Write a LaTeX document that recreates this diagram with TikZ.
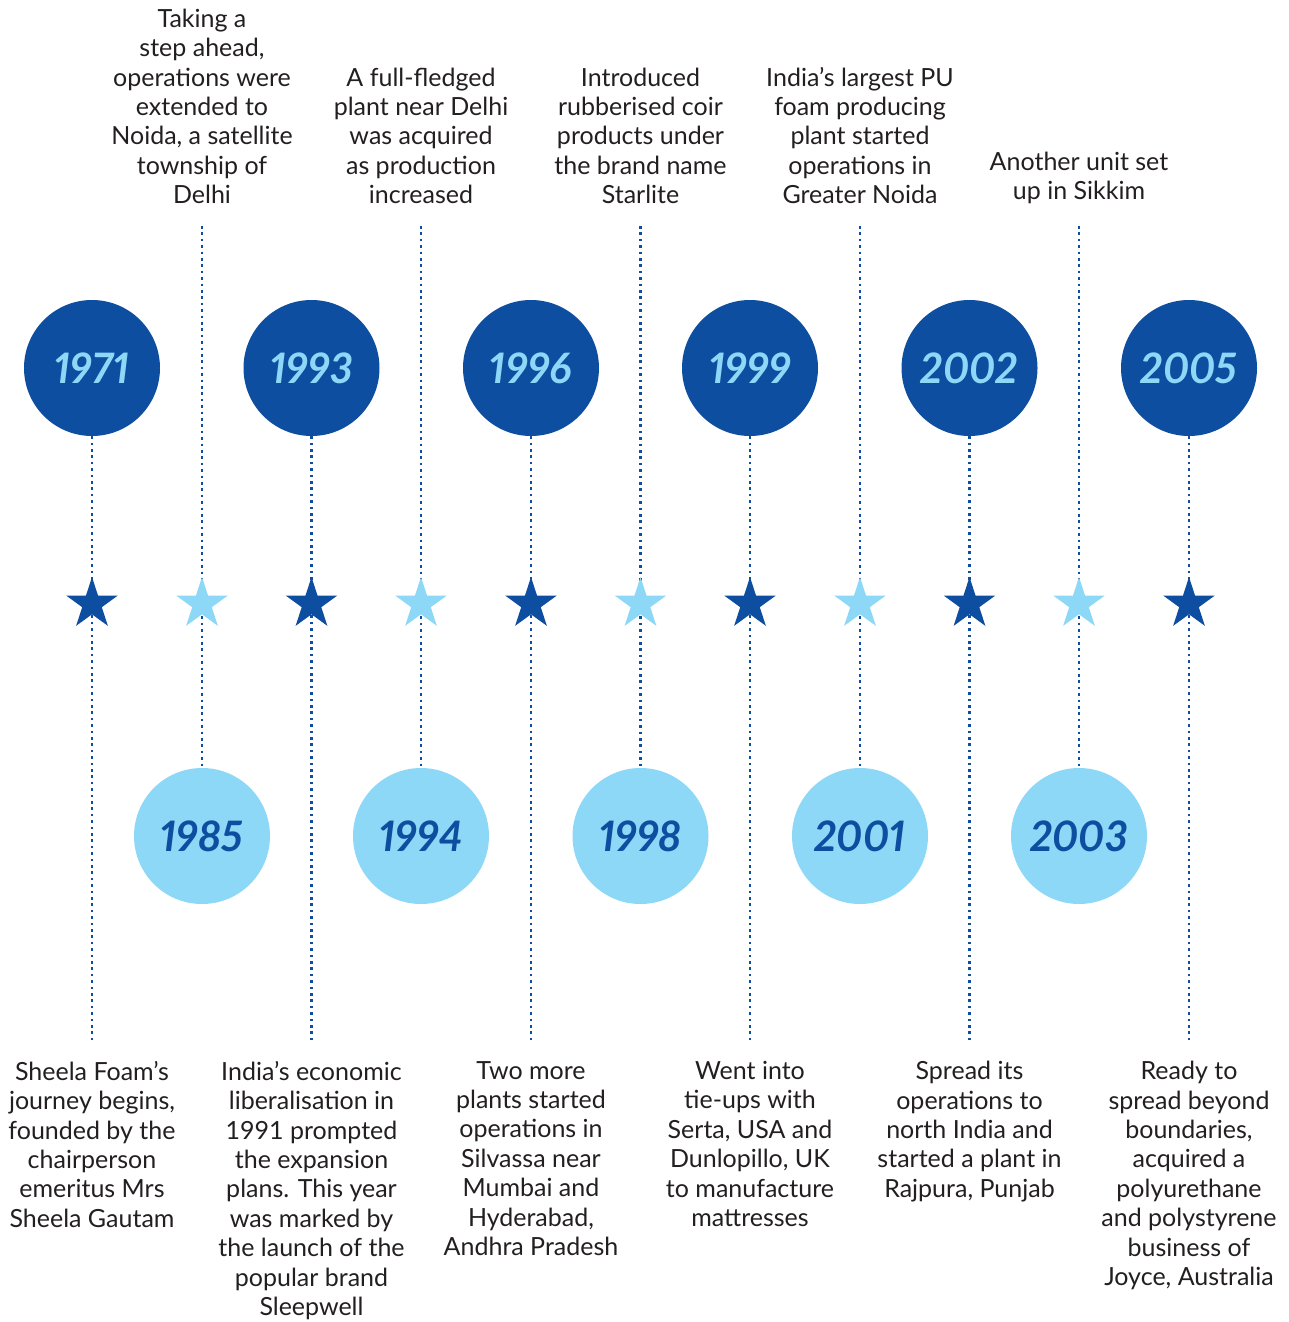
\documentclass[tikz,border=0pt]{standalone}
\usepackage{fontspec}
\setmainfont{Lato}
\usetikzlibrary{shapes.geometric,backgrounds}
\definecolor{dblue}{HTML}{0E4EA1}
\definecolor{lblue}{HTML}{8ED8F7}
\definecolor{txt}{HTML}{231F20}
\begin{document}
\begin{tikzpicture}[x=1pt,y=-1pt,
  yearfont/.style={font=\fontsize{42}{44}\selectfont\bfseries\itshape\addfontfeatures{Numbers=Proportional}},
  darkc/.style={circle,fill=dblue,minimum size=136pt,inner sep=0,text=lblue,yearfont},
  lightc/.style={circle,fill=lblue,minimum size=136pt,inner sep=0,text=dblue,yearfont},
  darks/.style={star,star points=5,star point ratio=2.618,fill=dblue,minimum size=54pt,inner sep=0},
  lights/.style={star,star points=5,star point ratio=2.618,fill=lblue,minimum size=54pt,inner sep=0},
  dotline/.style={dblue,line width=2.5pt,dash pattern=on 2.5pt off 3.9pt},
  desc/.style={text=txt,align=center,inner sep=0,font=\fontsize{25}{29.4}\selectfont}
]
\useasboundingbox (0,0) rectangle (1288,1322);
% dark (top) circles, stars, bottom texts
\foreach \n/\x/\yr/\txt in {
  a/92/1971/{Sheela Foam’s\\journey begins,\\founded by the\\chairperson\\emeritus Mrs\\Sheela Gautam},
  b/311.5/1993/{India’s economic\\liberalisation in\\1991 prompted\\the expansion\\plans. This year\\was marked by\\the launch of the\\popular brand\\Sleepwell},
  c/531/1996/{Two more\\plants started\\operations in\\Silvassa near\\Mumbai and\\Hyderabad,\\Andhra Pradesh},
  d/750/1999/{Went into\\tie-ups with\\Serta, USA and\\Dunlopillo, UK\\to manufacture\\mattresses},
  e/969.5/2002/{Spread its\\operations to\\north India and\\started a plant in\\Rajpura, Punjab},
  f/1189/2005/{Ready to\\spread beyond\\boundaries,\\acquired a\\polyurethane\\and polystyrene\\business of\\Joyce, Australia}}{
  \node[darkc] (c\n) at (\x,368) {\yr};
  \node[darks] (s\n) at (\x,604) {};
  \coordinate (e\n) at (\x,1040);
  \node[desc,anchor=north] (d\n) at (\x,1061) {\txt};
  \begin{scope}[on background layer]
    \draw[dotline] (c\n.south) -- (e\n);
  \end{scope}
}
% light (bottom) circles, stars, top texts
\foreach \n/\x/\yr/\txt in {
  g/202/1985/{Taking a\\step ahead,\\operations were\\extended to\\Noida, a satellite\\township of\\Delhi},
  h/421/1994/{A full-fledged\\plant near Delhi\\was acquired\\as production\\increased},
  i/640.5/1998/{Introduced\\rubberised coir\\products under\\the brand name\\Starlite},
  j/860/2001/{India’s largest PU\\foam producing\\plant started\\operations in\\Greater Noida},
  k/1079/2003/{Another unit set\\up in Sikkim}}{
  \node[lightc] (c\n) at (\x,836) {\yr};
  \node[lights] (s\n) at (\x,604) {};
  \coordinate (t\n) at (\x,226);
  \node[desc,anchor=south] (d\n) at (\x,204) {\txt};
  \begin{scope}[on background layer]
    \draw[dotline] (t\n) -- (c\n.north);
  \end{scope}
}
\end{tikzpicture}
\end{document}
